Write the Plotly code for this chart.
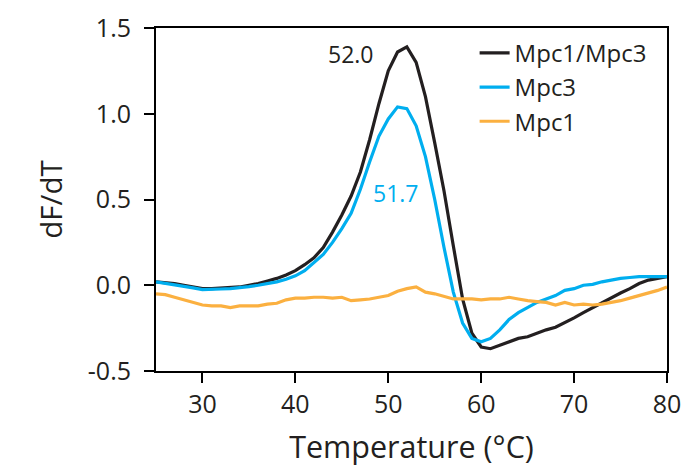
import plotly.graph_objects as go

temperature = list(range(25, 81))

mpc1_mpc3 = [0.02, 0.015, 0.01, 0.0, -0.01, -0.02, -0.02, -0.018, -0.015, -0.01,
             0.0, 0.01, 0.025, 0.04, 0.06, 0.085, 0.12, 0.16, 0.22, 0.31,
             0.41, 0.52, 0.66, 0.85, 1.06, 1.25, 1.36, 1.39, 1.30, 1.10,
             0.83, 0.55, 0.23, -0.08, -0.28, -0.36, -0.37, -0.35, -0.33, -0.31,
             -0.30, -0.28, -0.26, -0.245, -0.22, -0.19, -0.16, -0.13, -0.10, -0.07,
             -0.045, -0.02, 0.01, 0.03, 0.04, 0.05]

mpc3 = [0.02, 0.012, 0.005, -0.005, -0.015, -0.025, -0.025, -0.022, -0.02, -0.015,
        -0.008, 0.0, 0.01, 0.02, 0.035, 0.055, 0.085, 0.13, 0.18, 0.25,
        0.33, 0.42, 0.56, 0.72, 0.87, 0.97, 1.04, 1.03, 0.93, 0.75,
        0.50, 0.22, -0.04, -0.22, -0.31, -0.33, -0.31, -0.26, -0.20, -0.16,
        -0.13, -0.10, -0.08, -0.06, -0.03, -0.02, 0.0, 0.005, 0.02, 0.03,
        0.04, 0.045, 0.05, 0.05, 0.05, 0.05]

mpc1 = [-0.05, -0.055, -0.07, -0.085, -0.10, -0.115, -0.12, -0.12, -0.13, -0.12,
        -0.12, -0.12, -0.11, -0.105, -0.085, -0.075, -0.075, -0.07, -0.07, -0.075,
        -0.07, -0.09, -0.085, -0.08, -0.07, -0.06, -0.035, -0.02, -0.01, -0.04,
        -0.05, -0.065, -0.08, -0.08, -0.08, -0.085, -0.08, -0.08, -0.07, -0.08,
        -0.09, -0.095, -0.10, -0.115, -0.10, -0.115, -0.11, -0.115, -0.11, -0.10,
        -0.09, -0.075, -0.06, -0.045, -0.03, -0.01]

series_names = ["Mpc1/Mpc3", "Mpc3", "Mpc1"]
series_colors = ["#231f20", "#00aeef", "#fbb040"]
peak_labels = ["52.0", "51.7"]
peak_label_pos = [(46.0, 1.35), (50.8, 0.54)]

x_ticks = [30, 40, 50, 60, 70, 80]
y_ticks = [-0.5, 0.0, 0.5, 1.0, 1.5]
y_tick_text = ["-0.5", "0.0", "0.5", "1.0", "1.5"]

FONT = "Open Sans"
TXT = "#231f20"

fig = go.Figure()
for name, ys, col in zip(series_names, [mpc1_mpc3, mpc3, mpc1], series_colors):
    fig.add_trace(go.Scatter(x=temperature, y=ys, mode="lines", name=name,
                             line=dict(color=col, width=3.2), legendgroup=name))

for txt, (px, py), col in zip(peak_labels, peak_label_pos, series_colors[:2]):
    fig.add_annotation(x=px, y=py, text=txt, showarrow=False,
                       font=dict(family=FONT, size=23, color=col))

axis_common = dict(showline=True, linecolor="black", linewidth=2, mirror=True,
                   ticks="outside", ticklen=10, tickwidth=2, tickcolor="black",
                   showgrid=False, zeroline=False, automargin=False,
                   tickfont=dict(family=FONT, size=25, color=TXT))

fig.update_xaxes(range=[25, 80], tickvals=x_ticks, ticklabelstandoff=0,
                 title=dict(text="Temperature (°C)", font=dict(family=FONT, size=30.5, color=TXT), standoff=18),
                 **axis_common)
fig.update_yaxes(range=[-0.5, 1.5], tickvals=y_ticks, ticktext=y_tick_text, ticklabelstandoff=8,
                 title=dict(text="dF/dT", font=dict(family=FONT, size=29.5, color=TXT), standoff=16),
                 **axis_common)

fig.update_layout(
    width=686, height=468,
    margin=dict(l=156, r=19, t=28, b=97),
    plot_bgcolor="white", paper_bgcolor="white",
    showlegend=True,
    legend=dict(x=0.6235, y=0.992, xanchor="left", yanchor="top",
                bgcolor="rgba(0,0,0,0)", traceorder="normal",
                font=dict(family=FONT, size=24, color=TXT)),
)

fig.write_html("out.html")
